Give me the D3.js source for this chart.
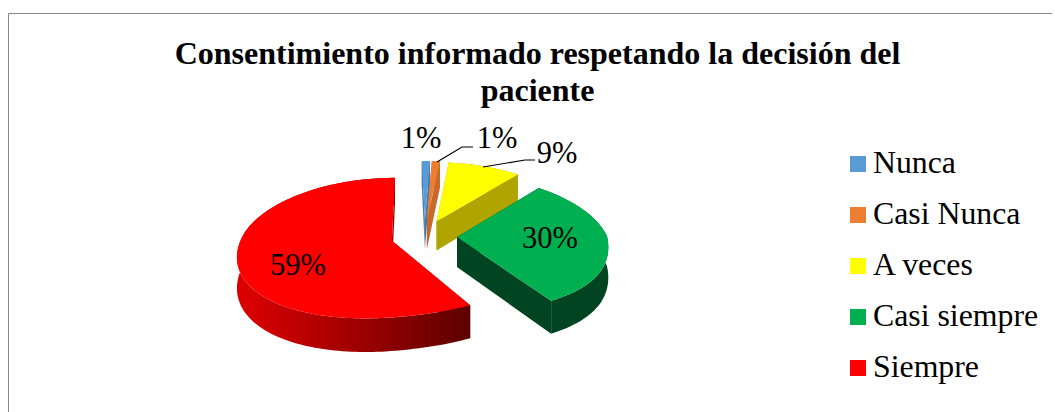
<!DOCTYPE html>
<html><head><meta charset="utf-8">
<script src="https://cdn.jsdelivr.net/npm/d3@7/dist/d3.min.js"></script>
<style>html,body{margin:0;padding:0;background:#fff}svg{display:block}text{font-family:"Liberation Serif",serif;fill:#000}</style>
</head><body><svg id="c" width="1055" height="412"></svg>
<script>
const categories = ["Nunca","Casi Nunca","A veces","Casi siempre","Siempre"];
const values = [1,1,9,30,59];
const titleLines = ["Consentimiento informado respetando la decisión del","paciente"];
const topColors = ["#5b9bd5","#ed7d31","#ffff00","#00b050","#ff0000"];
const wallColors = ["#3f7cb5","#c8692c","#b0a500","#004422","#a80000"];
const labelPos = [[421,148],[497,148],[557,163],[550,248],[298,275]];
const cx=424,cy=236,B=69,explodeX=0.22,explodeY=0.24,depth=30;
const svg=d3.select("#c");
svg.append("path").attr("d",`M8.5,412V13.5H1052`).attr("fill","none").attr("stroke","#868686").attr("stroke-width",1);
const title=svg.append("g");
titleLines.forEach((t,i)=>title.append("text").text(t).attr("x",537.5).attr("y",64+i*37).attr("text-anchor","middle").attr("font-size",32).attr("font-weight","bold"));
const pie=d3.pie().sort(null).startAngle(0).endAngle(2*Math.PI).value(d=>d);
const arcs=pie(values);
function proj(u,v,z){
  const wy=v<0?1-0.114*v:1-0.1*v;
  const slope=u<0?150+22*v:(v<0?150+25*v+7*v*v:150+12*v+36*v*v);
  const offset=cx-(v<0?2:19)*v*v;
  return [offset+slope*u, cy+(B*v+z*depth)/wy];
}
const defs=svg.append("defs");
const grad=defs.append("linearGradient").attr("id","redSide").attr("gradientUnits","userSpaceOnUse").attr("x1",239).attr("x2",472).attr("y1",0).attr("y2",0);
[[0,"#dc0000"],[0.5,"#a00000"],[1,"#5c0000"]].forEach(s=>grad.append("stop").attr("offset",s[0]).attr("stop-color",s[1]));
const line=d3.line();
arcs.forEach((a,i)=>{
  const mid=(a.startAngle+a.endAngle)/2;
  const ox=Math.sin(mid)*explodeX, oy=-Math.cos(mid)*explodeY;
  const P=(t,r,z)=>proj(ox+r*Math.sin(t),oy-r*Math.cos(t),z);
  const n=Math.max(4,Math.round((a.endAngle-a.startAngle)*40));
  const ts=d3.range(n+1).map(k=>a.startAngle+(a.endAngle-a.startAngle)*k/n);
  const wall=i===4?"url(#redSide)":wallColors[i];
  const g=svg.append("g");
  const top=[P(0,0,0),...ts.map(t=>P(t,1,0))];
  const rim=[...ts.map(t=>P(t,1,0)),...ts.slice().reverse().map(t=>P(t,1,1))];
  g.append("path").attr("d",line(rim)+"Z").attr("fill",wall);
  [a.startAngle,a.endAngle].forEach(t=>{
    g.append("path").attr("d",line([P(0,0,0),P(t,1,0),P(t,1,1),P(0,0,1)])+"Z").attr("fill",wall);
  });
  g.append("path").attr("d",line(top)+"Z").attr("fill",topColors[i]);
});
const leaders=[[[437,162],[462,147],[473,147]],[[483,167],[525,160],[535,160]]];
leaders.forEach(l=>svg.append("path").attr("d",line(l)).attr("fill","none").attr("stroke","#000").attr("stroke-width",1.2));
values.forEach((v,i)=>svg.append("text").text(v+"%").attr("x",labelPos[i][0]).attr("y",labelPos[i][1]).attr("text-anchor","middle").attr("font-size",30.5));
const legY=d3.scalePoint().domain(categories).range([172,376]);
categories.forEach((c,i)=>{
  const y=legY(c);
  svg.append("rect").attr("x",850).attr("y",y-16).attr("width",16).attr("height",16).attr("fill",topColors[i]);
  svg.append("text").text(c).attr("x",873).attr("y",y+1).attr("font-size",31.8);
});
</script></body></html>
